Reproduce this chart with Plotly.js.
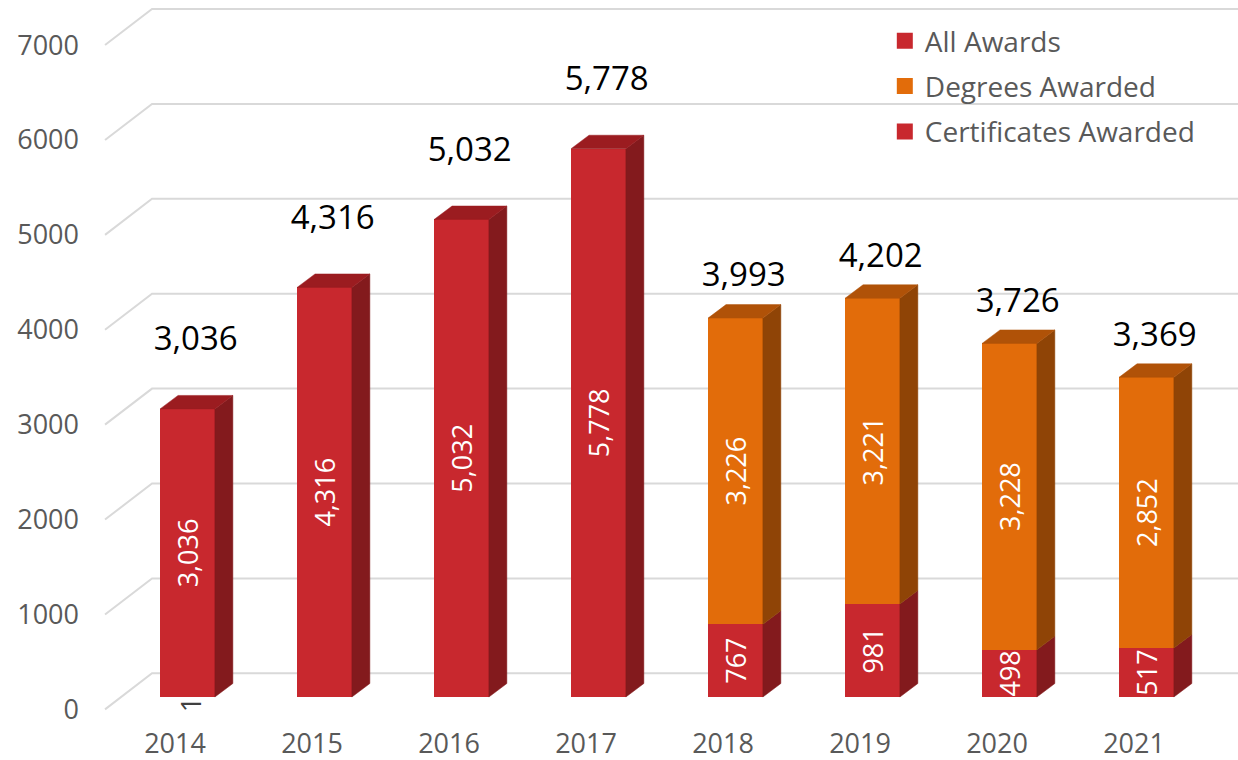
<!DOCTYPE html>
<html>
<head>
<meta charset="utf-8">
<script src="https://cdn.plot.ly/plotly-3.0.1.min.js"></script>
<style>
  html, body { margin: 0; padding: 0; background: #ffffff; }
  #chart { width: 1238px; height: 760px; }
</style>
</head>
<body>
<div id="chart"></div>
<script>
// ---- data ----
const years = ['2014', '2015', '2016', '2017', '2018', '2019', '2020', '2021'];
const allAwards = [3036, 4316, 5032, 5778, null, null, null, null];
const degrees = [null, null, null, null, 3226, 3221, 3228, 2852];
const certificates = [null, null, null, null, 767, 981, 498, 517];
const yTicks = [0, 1000, 2000, 3000, 4000, 5000, 6000, 7000];
const strayLabel = '1'; // stray label shown under the 2014 column

// ---- style constants ----
const FONT = 'Open Sans, Noto Sans, sans-serif';
const RED = '#C8282E', RED_SIDE = '#831A1D', RED_TOP = '#9B1C20';
const ORANGE = '#E26C0A', ORANGE_SIDE = '#8F4406', ORANGE_TOP = '#B05208';
const GRID = '#D9D9D9', AXIS_TXT = '#595959';
const BAR_W = 0.4;          // bar width in category units
const DX = 0.131;           // 3D depth (x, category units)
const DY = 142;             // 3D depth (y, value units)
const FRONT_OFF = -130;     // front plane offset (value units)
const BACK_OFF = 250;       // back wall offset (value units)
const GRID_XF = -0.602, GRID_XB = -0.259, GRID_XEND = 8.2;
const LBL_OFF_SINGLE = 706, LBL_OFF_STACK = 420, LBL_DX = 0.06;

const xs = years.map((_, i) => i);

// ---- 3D faces built from the data ----
function sidePoly(i, y0, y1) {
  const xr = i + BAR_W / 2;
  return [[xr, y0], [xr + DX, y0 + DY], [xr + DX, y1 + DY], [xr, y1], [xr, y0]];
}
function topPoly(i, y) {
  const xl = i - BAR_W / 2, xr = i + BAR_W / 2;
  return [[xl, y], [xl + DX, y + DY], [xr + DX, y + DY], [xr, y], [xl, y]];
}
function faceTrace(polys, color) {
  const x = [], y = [];
  polys.forEach(p => { p.forEach(pt => { x.push(pt[0]); y.push(pt[1]); }); x.push(null); y.push(null); });
  return {
    type: 'scatter', mode: 'lines', x: x, y: y, fill: 'toself', fillcolor: color,
    line: { color: color, width: 0.5 }, hoverinfo: 'skip', showlegend: false
  };
}

const redSides = [], redTops = [], orSides = [], orTops = [];
xs.forEach(i => {
  if (allAwards[i] != null) {
    redSides.push(sidePoly(i, 0, allAwards[i]));
    redTops.push(topPoly(i, allAwards[i]));
  }
  if (certificates[i] != null) {
    redSides.push(sidePoly(i, 0, certificates[i]));
  }
  if (degrees[i] != null) {
    const base = certificates[i] || 0;
    orSides.push(sidePoly(i, base, base + degrees[i]));
    orTops.push(topPoly(i, base + degrees[i]));
  }
});

const fmt = v => v.toLocaleString('en-US');

// ---- bars (front faces) ----
const barCommon = {
  type: 'bar', width: BAR_W, textposition: 'inside', insidetextanchor: 'middle',
  textangle: -90, constraintext: 'none', cliponaxis: true,
  textfont: { family: FONT, size: 27, color: '#FFFFFF' },
  hoverinfo: 'skip', showlegend: false, marker: { line: { width: 0 } }
};
const traces = [
  Object.assign({}, barCommon, { name: 'All Awards', x: xs, y: allAwards,
    text: allAwards.map(v => v == null ? '' : fmt(v)), marker: { color: RED, line: { width: 0 } } }),
  Object.assign({}, barCommon, { name: 'Certificates Awarded', x: xs, y: certificates,
    text: certificates.map(v => v == null ? '' : fmt(v)), marker: { color: RED, line: { width: 0 } } }),
  Object.assign({}, barCommon, { name: 'Degrees Awarded', x: xs, y: degrees,
    text: degrees.map(v => v == null ? '' : fmt(v)), marker: { color: ORANGE, line: { width: 0 } } }),
  faceTrace(redSides, RED_SIDE),
  faceTrace(orSides, ORANGE_SIDE),
  faceTrace(redTops, RED_TOP),
  faceTrace(orTops, ORANGE_TOP)
];

// total labels above columns
const totX = [], totY = [], totT = [];
xs.forEach(i => {
  if (allAwards[i] != null) {
    totX.push(i + LBL_DX); totY.push(allAwards[i] + LBL_OFF_SINGLE); totT.push(fmt(allAwards[i]));
  } else {
    const t = (certificates[i] || 0) + (degrees[i] || 0);
    totX.push(i + LBL_DX); totY.push(t + LBL_OFF_STACK); totT.push(fmt(t));
  }
});
traces.push({
  type: 'scatter', mode: 'text', x: totX, y: totY, text: totT, textposition: 'middle center',
  textfont: { family: FONT, size: 33, color: '#000000' }, hoverinfo: 'skip', showlegend: false,
  cliponaxis: false
});

// legend proxies
[['All Awards', RED], ['Degrees Awarded', ORANGE], ['Certificates Awarded', RED]].forEach((d, k) => {
  traces.push({
    type: 'scatter', mode: 'markers', x: [null], y: [null], name: d[0], legendgroup: 'g' + k,
    marker: { symbol: 'square', size: 18, color: d[1] }, showlegend: true, hoverinfo: 'skip'
  });
});

// back-wall gridlines (with the slanted left wall edge)
const shapes = yTicks.map(v => ({
  type: 'path', xref: 'x', yref: 'y', layer: 'below',
  path: 'M' + GRID_XF + ',' + (v + FRONT_OFF) + ' L' + GRID_XB + ',' + (v + BACK_OFF) + ' L' + GRID_XEND + ',' + (v + BACK_OFF),
  line: { color: GRID, width: 2 }
}));

const layout = {
  width: 1238, height: 760,
  margin: { l: 80, r: 0, t: 0, b: 35 },
  paper_bgcolor: '#FFFFFF', plot_bgcolor: '#FFFFFF',
  barmode: 'stack', hovermode: false,
  font: { family: FONT, color: AXIS_TXT },
  xaxis: {
    range: [-0.7847, 7.668], showgrid: false, zeroline: false, showline: false, ticks: '',
    tickmode: 'array', tickvals: xs.map(i => i - 0.091), ticktext: years,
    tickfont: { family: FONT, size: 27, color: AXIS_TXT }, fixedrange: true
  },
  yaxis: {
    range: [-295, 7345], showgrid: false, zeroline: false, showline: false, ticks: '',
    tickmode: 'array', tickvals: yTicks.map(v => v + FRONT_OFF), ticktext: yTicks.map(String),
    tickfont: { family: FONT, size: 27, color: AXIS_TXT }, fixedrange: true
  },
  shapes: shapes,
  annotations: [{
    xref: 'x', yref: 'y', x: 0 + 0.02, y: 0, text: strayLabel, textangle: -90, showarrow: false,
    font: { family: FONT, size: 27, color: '#404040' }, yanchor: 'middle', xanchor: 'center', yshift: -8
  }],
  legend: {
    x: 0.695, y: 0.978, xanchor: 'left', yanchor: 'top', traceorder: 'grouped', tracegroupgap: 6,
    font: { family: FONT, size: 28, color: AXIS_TXT }, bgcolor: 'rgba(0,0,0,0)'
  }
};

Plotly.newPlot('chart', traces, layout, { staticPlot: true, displayModeBar: false });
</script>
</body>
</html>
